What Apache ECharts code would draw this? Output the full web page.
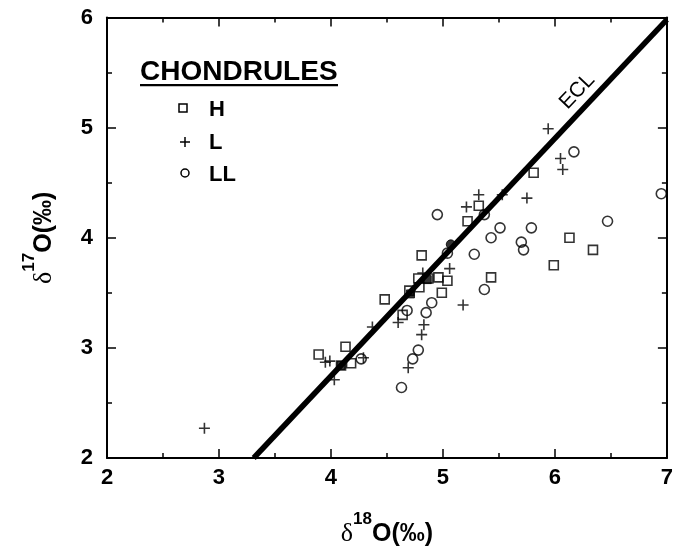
<!DOCTYPE html>
<html><head><meta charset="utf-8">
<script src="https://cdn.jsdelivr.net/npm/echarts@6/dist/echarts.min.js"></script>
<style>html,body{margin:0;padding:0;background:#fff}#c{width:676px;height:552px}</style>
</head><body><div id="c"></div>
<script>
// ---- data ----
const xTickValues = [2, 3, 4, 5, 6, 7];
const yTickValues = [2, 3, 4, 5, 6];

const hChondrules = [
  [3.89,2.94],[4.13,3.01],[4.18,2.86],[4.09,2.84],[4.48,3.44],[4.64,3.30],[4.70,3.52],
  [4.78,3.63],[4.79,3.55],[4.81,3.84],[4.87,3.63],[4.96,3.64],[5.04,3.61],
  [4.99,3.50],[5.22,4.15],[5.32,4.29],[5.43,3.64],[5.81,4.59],[5.99,3.75],
  [6.13,4.00],[6.34,3.89]
];
const lChondrules = [
  [2.87,2.27],[3.95,2.87],[3.99,2.88],[4.03,2.71],[4.29,2.91],[4.37,3.19],
  [4.60,3.23],[4.69,2.82],[4.81,3.12],[4.83,3.21],[4.82,3.68],[5.06,3.72],
  [5.18,3.39],[5.21,4.28],[5.32,4.39],[5.53,4.39],[5.75,4.36],[5.94,4.99],
  [6.05,4.72],[6.07,4.62]
];
const llChondrules = [
  [4.27,2.90],[4.63,2.64],[4.68,3.34],[4.73,2.90],[4.78,2.98],[4.85,3.32],
  [4.90,3.41],[4.95,4.21],[5.04,3.86],[5.28,3.85],[5.37,3.53],[5.37,4.21],
  [5.43,4.00],[5.51,4.09],[5.70,3.96],[5.72,3.89],[5.79,4.09],[6.17,4.78],
  [6.47,4.15],[6.95,4.40]
];
const filledSquares = [[4.09,2.84],[4.71,3.49],[4.86,3.62]];
const filledCircles = [[5.07,3.94]];
const eclLine = [[3.31,2.0],[7.0,5.98]];
const eclLabelAt = [6.2,5.33];

const legendTitle = 'CHONDRULES';
const legendItems = ['H','L','LL'];

// ---- chart ----
const FONT = '"Liberation Sans", Arial, Helvetica, sans-serif';
const chart = echarts.init(document.getElementById('c'), null, {renderer:'canvas'});
const PLUS = 'path://M0,5L10,5M5,0L5,10';

const axisCommon = {
  type:'value', interval:1,
  axisLine:{show:true, onZero:false, lineStyle:{color:'#000', width:2}},
  axisTick:{show:true, inside:true, length:9, lineStyle:{color:'#000', width:1.5}},
  minorTick:{show:true, splitNumber:2, length:5, lineStyle:{color:'#000', width:1.5}},
  splitLine:{show:false}
};
const titleRich = {
  d:{fontFamily:'"Liberation Serif", serif', fontSize:26, color:'#000', verticalAlign:'bottom', lineHeight:36},
  s:{fontFamily:FONT, fontWeight:'bold', fontSize:17, color:'#000', verticalAlign:'top', lineHeight:36},
  o:{fontFamily:FONT, fontWeight:'bold', fontSize:25, color:'#000', verticalAlign:'bottom', lineHeight:36}
};

chart.setOption({
  animation:false,
  backgroundColor:'#fff',
  grid:{left:107, right:7, top:17.5, bottom:84.5, containLabel:false},
  xAxis:[
    Object.assign({}, axisCommon, {
      min:xTickValues[0], max:xTickValues[xTickValues.length-1], position:'bottom',
      axisLabel:{show:true, margin:9, color:'#000', fontFamily:FONT, fontWeight:'bold', fontSize:22},
      name:'{d|δ}{s|18}{o|O(‰)}', nameLocation:'middle', nameGap:53,
      nameTextStyle:{rich:titleRich}
    }),
    Object.assign({}, axisCommon, {
      min:xTickValues[0], max:xTickValues[xTickValues.length-1], position:'top',
      axisLabel:{show:false}
    })
  ],
  yAxis:[
    Object.assign({}, axisCommon, {
      min:yTickValues[0], max:yTickValues[yTickValues.length-1], position:'left',
      axisLabel:{show:true, margin:14, color:'#000', fontFamily:FONT, fontWeight:'bold', fontSize:22},
      name:'{d|δ}{s|17}{o|O(‰)}', nameLocation:'middle', nameGap:50, nameRotate:90,
      nameTextStyle:{rich:titleRich}
    }),
    Object.assign({}, axisCommon, {
      min:yTickValues[0], max:yTickValues[yTickValues.length-1], position:'right',
      axisLabel:{show:false}
    })
  ],
  series:[
    {type:'line', name:'ECL', data:eclLine, symbol:'none', lineStyle:{color:'#000', width:5.5}, z:3, silent:true},
    {type:'scatter', name:'H', data:hChondrules, symbol:'rect', symbolSize:9,
      itemStyle:{color:'rgba(0,0,0,0)', borderColor:'#000', borderWidth:1.6}, z:4},
    {type:'scatter', name:'L', data:lChondrules, symbol:PLUS, symbolSize:11,
      itemStyle:{color:'rgba(0,0,0,0)', borderColor:'#000', borderWidth:1.6}, z:4},
    {type:'scatter', name:'LL', data:llChondrules, symbol:'circle', symbolSize:10,
      itemStyle:{color:'rgba(0,0,0,0)', borderColor:'#000', borderWidth:1.6}, z:4},
    {type:'scatter', name:'bulkSq', data:filledSquares, symbol:'rect', symbolSize:8,
      itemStyle:{color:'#000', borderColor:'#000', borderWidth:1}, z:5},
    {type:'scatter', name:'bulkCi', data:filledCircles, symbol:'circle', symbolSize:9,
      itemStyle:{color:'#000', borderColor:'#000', borderWidth:1}, z:5}
  ]
});

// legend + ECL label drawn as graphic text
const p0 = chart.convertToPixel({gridIndex:0}, eclLine[0]);
const p1 = chart.convertToPixel({gridIndex:0}, eclLine[1]);
const ang = Math.atan2(p0[1]-p1[1], p1[0]-p0[0]);
const lp = chart.convertToPixel({gridIndex:0}, eclLabelAt);

chart.setOption({
  graphic:[
    {type:'text', left:140, top:58, style:{text:legendTitle, font:'bold 28px '+FONT, fill:'#000'}},
    {type:'rect', shape:{x:140, y:84, width:198, height:2.2}, style:{fill:'#000'}},
    {type:'rect', shape:{x:179, y:104, width:8, height:8}, style:{fill:'none', stroke:'#000', lineWidth:1.5}},
    {type:'polyline', shape:{points:[[180,142],[190,142]]}, style:{stroke:'#000', lineWidth:1.5}},
    {type:'polyline', shape:{points:[[185,137],[185,147]]}, style:{stroke:'#000', lineWidth:1.5}},
    {type:'circle', shape:{cx:185, cy:173, r:4}, style:{fill:'none', stroke:'#000', lineWidth:1.5}},
    {type:'text', x:209, y:110, style:{text:legendItems[0], font:'bold 22px '+FONT, fill:'#000', verticalAlign:'middle'}},
    {type:'text', x:209, y:143, style:{text:legendItems[1], font:'bold 22px '+FONT, fill:'#000', verticalAlign:'middle'}},
    {type:'text', x:209, y:175, style:{text:legendItems[2], font:'bold 22px '+FONT, fill:'#000', verticalAlign:'middle'}},
    {type:'text', x:lp[0], y:lp[1], rotation:ang,
      style:{text:'ECL', font:'21px '+FONT, fill:'#000', align:'center', verticalAlign:'middle'}}
  ]
});
</script>
</body></html>
